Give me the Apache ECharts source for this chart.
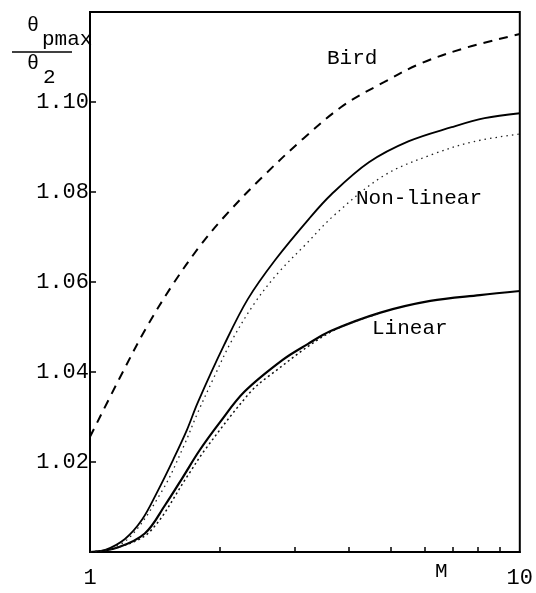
<!DOCTYPE html>
<html>
<head>
<meta charset="utf-8">
<script src="https://cdn.jsdelivr.net/npm/echarts@6/dist/echarts.min.js"></script>
<style>
html,body{margin:0;padding:0;background:#fff;}
#c{width:536px;height:593px;}
</style>
</head>
<body>
<div id="c"></div>
<script>
// X tick values (log scale M)
const xLabelValues = [1, 10];
const xTickValues = [2, 3, 4, 5, 6, 7, 8, 9];
// Y ticks
const yLabelValues = [1.02, 1.04, 1.06, 1.08, 1.10];

// Bird (dashed)
const birdM = [1, 1.17, 1.346, 1.562, 1.802, 2.053, 2.498, 3.138, 3.896, 4.83, 5.89, 7.52, 10];
const birdY = [1.0256, 1.0385, 1.0495, 1.0596, 1.0680, 1.0745, 1.0830, 1.0919, 1.0993, 1.1044, 1.1086, 1.1121, 1.1151];

// Non-linear (solid)
const nlSolidM = [1, 1.082, 1.206, 1.322, 1.438, 1.563, 1.682, 1.781, 2.049, 2.329, 2.702, 3.236, 3.647, 4.456, 5.52, 6.94, 8.28, 10];
const nlSolidY = [1.0, 1.0004, 1.0029, 1.0072, 1.0136, 1.0206, 1.0272, 1.0332, 1.0459, 1.0562, 1.0650, 1.0741, 1.0795, 1.0866, 1.0913, 1.0944, 1.0964, 1.0975];

// Non-linear (dotted)
const nlDotM = [1, 1.08, 1.238, 1.476, 1.652, 1.778, 1.934, 2.127, 2.415, 2.739, 3.172, 3.696, 4.84, 6.32, 7.82, 10];
const nlDotY = [1.0, 1.0003, 1.0033, 1.0138, 1.0235, 1.0308, 1.0384, 1.0466, 1.0553, 1.0620, 1.0683, 1.0748, 1.0837, 1.0885, 1.0912, 1.0929];

// Linear (solid)
const linSolidM = [1, 1.16, 1.341, 1.497, 1.644, 1.796, 2.005, 2.286, 2.807, 3.21, 3.63, 4.74, 6.19, 8.07, 10];
const linSolidY = [1.0, 1.001, 1.0041, 1.0105, 1.0166, 1.0225, 1.0288, 1.0356, 1.0427, 1.0462, 1.0491, 1.0532, 1.0558, 1.0571, 1.058];

// Linear (dotted)
const linDotM = [1, 1.16, 1.377, 1.689, 1.854, 2.359, 2.615, 3.63, 4.74];
const linDotY = [1.0, 1.001, 1.0045, 1.0170, 1.0228, 1.0355, 1.0392, 1.0489, 1.0531];

const zip = (a, b) => a.map((v, i) => [v, b[i]]);
const FONT = "'Liberation Mono', 'DejaVu Sans Mono', monospace";

const chart = echarts.init(document.getElementById('c'), null, {renderer: 'canvas'});
chart.setOption({
  backgroundColor: '#ffffff',
  animation: false,
  grid: {left: 90, right: 10, top: 12, bottom: 41, show: true, borderColor: '#000', borderWidth: 2, backgroundColor: 'transparent'},
  xAxis: {
    type: 'log', logBase: 10, min: 1, max: 10,
    axisLine: {show: true, lineStyle: {color: '#000', width: 2}},
    axisTick: {show: true, inside: true, length: 5, customValues: xTickValues, lineStyle: {color: '#000', width: 1.5}},
    axisLabel: {show: true, customValues: xLabelValues, margin: 15, color: '#000', fontFamily: FONT, fontSize: 22,
      formatter: v => String(Math.round(v))},
    splitLine: {show: false},
    minorTick: {show: false}
  },
  yAxis: {
    type: 'value', min: 1.00, max: 1.12, interval: 0.02,
    axisLine: {show: true, lineStyle: {color: '#000', width: 2}},
    axisTick: {show: true, inside: true, length: 6, customValues: yLabelValues, lineStyle: {color: '#000', width: 1.5}},
    axisLabel: {show: true, customValues: yLabelValues, margin: 1, color: '#000', fontFamily: FONT, fontSize: 22,
      formatter: v => v.toFixed(2)},
    splitLine: {show: false}
  },
  series: [
    {type: 'line', data: zip(birdM, birdY), smooth: 0.35, showSymbol: false,
      lineStyle: {color: '#000', width: 2, type: [9, 7]}},
    {type: 'line', data: zip(nlSolidM, nlSolidY), smooth: 0.35, showSymbol: false,
      lineStyle: {color: '#000', width: 1.8}},
    {type: 'line', data: zip(nlDotM, nlDotY), smooth: 0.35, showSymbol: false,
      lineStyle: {color: '#222', width: 1.3, type: [1.5, 4]}},
    {type: 'line', data: zip(linSolidM, linSolidY), smooth: 0.35, showSymbol: false,
      lineStyle: {color: '#000', width: 2.2}},
    {type: 'line', data: zip(linDotM, linDotY), smooth: 0.35, showSymbol: false,
      lineStyle: {color: '#111', width: 1.5, type: [2, 3]}}
  ],
  graphic: [
    {type: 'text', left: 27, top: 16, style: {text: 'θ', font: '20px ' + FONT, fill: '#000'}},
    {type: 'text', left: 42, top: 29, style: {text: 'pmax', font: '21px ' + FONT, fill: '#000'}},
    {type: 'line', shape: {x1: 12, y1: 52, x2: 72, y2: 52}, style: {stroke: '#000', lineWidth: 1.5}},
    {type: 'text', left: 27, top: 54, style: {text: 'θ', font: '20px ' + FONT, fill: '#000'}},
    {type: 'text', left: 43, top: 67, style: {text: '2', font: '21px ' + FONT, fill: '#000'}},
    {type: 'text', left: 327, top: 48, style: {text: 'Bird', font: '21px ' + FONT, fill: '#000'}},
    {type: 'text', left: 356, top: 188, style: {text: 'Non-linear', font: '21px ' + FONT, fill: '#000'}},
    {type: 'text', left: 372, top: 318, style: {text: 'Linear', font: '21px ' + FONT, fill: '#000'}},
    {type: 'text', left: 435, top: 561, style: {text: 'M', font: '21px ' + FONT, fill: '#000'}}
  ]
});
</script>
</body>
</html>
